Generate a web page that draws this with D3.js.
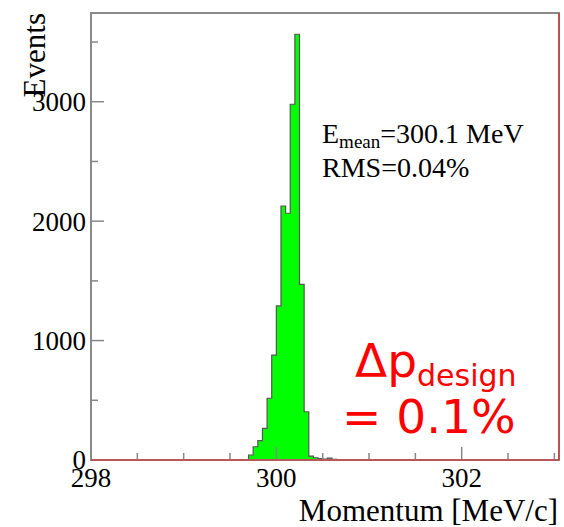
<!DOCTYPE html>
<html>
<head>
<meta charset="utf-8">
<script src="https://cdn.jsdelivr.net/npm/d3@7"></script>
<style>
  html, body { margin: 0; padding: 0; background: #ffffff; }
  svg { display: block; }
</style>
</head>
<body>
<svg id="chart" width="564" height="527"></svg>
<script>
// Momentum distribution, 0.05 MeV/c bins
const binWidth = 0.05;
const binLow = [299.70, 299.75, 299.80, 299.85, 299.90, 299.95, 300.00, 300.05, 300.10, 300.15,
                300.20, 300.25, 300.30, 300.35, 300.40, 300.45, 300.50, 300.55, 300.60, 300.65];
const counts = [42, 111, 162, 265, 517, 879, 1290, 2127, 2066, 2979,
                3565, 1470, 404, 33, 19, 12, 8, 15, 6, 3];

const xDomain = [298, 303.05];
const yDomain = [0, 3743];
const xMajorTicks = [298, 300, 302];
const xMinorTicks = [298.5, 299, 299.5, 300.5, 301, 301.5, 302.5, 303];
const yMajorTicks = [0, 1000, 2000, 3000];
const yMinorTicks = [500, 1500, 2500, 3500];

const statLines = { meanLabel: "E", meanSub: "mean", meanValue: "=300.1 MeV", rms: "RMS=0.04%" };
const designLabel = { main: "\u0394p", sub: "design", value: "= 0.1%" };
const xTitle = "Momentum [MeV/c]";
const yTitle = "Events";

const frame = { left: 91, right: 559, top: 13, bottom: 460 };
const serif = "'Liberation Serif', 'Times New Roman', serif";
const sans = "'DejaVu Sans', Verdana, sans-serif";

const svg = d3.select("#chart");
const x = d3.scaleLinear().domain(xDomain).range([frame.left, frame.right]);
const y = d3.scaleLinear().domain(yDomain).range([frame.bottom, frame.top]);

// histogram outline as a step path
const pts = [[binLow[0], 0]];
binLow.forEach((lo, i) => {
  pts.push([lo, counts[i]]);
  pts.push([lo + binWidth, counts[i]]);
});
pts.push([binLow[binLow.length - 1] + binWidth, 0]);

const line = d3.line().x(d => x(d[0])).y(d => y(d[1]));
svg.append("path")
  .attr("d", line(pts) + "Z")
  .attr("fill", "#00ff00")
  .attr("stroke", "#555555")
  .attr("stroke-width", 1.2);

// frame
svg.append("rect")
  .attr("x", frame.left).attr("y", frame.top)
  .attr("width", frame.right - frame.left).attr("height", frame.bottom - frame.top)
  .attr("fill", "none").attr("stroke", "#8a8a8a").attr("stroke-width", 2);

// ticks
const tickColor = "#888888";
const gx = svg.append("g");
gx.selectAll("line.maj").data(xMajorTicks).join("line")
  .attr("x1", d => x(d)).attr("x2", d => x(d))
  .attr("y1", frame.bottom).attr("y2", frame.bottom - 13)
  .attr("stroke", tickColor).attr("stroke-width", 1.5);
gx.selectAll("line.min").data(xMinorTicks).join("line")
  .attr("x1", d => x(d)).attr("x2", d => x(d))
  .attr("y1", frame.bottom).attr("y2", frame.bottom - 7)
  .attr("stroke", tickColor).attr("stroke-width", 1.5);

const gy = svg.append("g");
gy.selectAll("line.maj").data(yMajorTicks).join("line")
  .attr("x1", frame.left).attr("x2", frame.left + 13)
  .attr("y1", d => y(d)).attr("y2", d => y(d))
  .attr("stroke", tickColor).attr("stroke-width", 1.5);
gy.selectAll("line.min").data(yMinorTicks).join("line")
  .attr("x1", frame.left).attr("x2", frame.left + 7)
  .attr("y1", d => y(d)).attr("y2", d => y(d))
  .attr("stroke", tickColor).attr("stroke-width", 1.5);

// red edges on bottom and right
svg.append("line")
  .attr("x1", frame.left).attr("x2", frame.right)
  .attr("y1", frame.bottom).attr("y2", frame.bottom)
  .attr("stroke", "#e8262b").attr("stroke-width", 1.2);
svg.append("line")
  .attr("x1", frame.right).attr("x2", frame.right)
  .attr("y1", frame.top).attr("y2", frame.bottom)
  .attr("stroke", "#e8262b").attr("stroke-width", 1.2);

// tick labels
svg.append("g").selectAll("text").data(xMajorTicks).join("text")
  .attr("x", d => x(d)).attr("y", 487)
  .attr("text-anchor", "middle")
  .style("font-family", serif).style("font-size", "27px").attr("fill", "#000")
  .text(d => d);

svg.append("g").selectAll("text").data(yMajorTicks).join("text")
  .attr("x", 86).attr("y", d => y(d)).attr("dy", "0.35em")
  .attr("text-anchor", "end")
  .style("font-family", serif).style("font-size", "27px").attr("fill", "#000")
  .text(d => d);

// axis titles
svg.append("text")
  .attr("x", 558).attr("y", 521)
  .attr("text-anchor", "end")
  .style("font-family", serif).style("font-size", "31px").attr("fill", "#000")
  .text(xTitle);

svg.append("text")
  .attr("transform", "translate(45,13) rotate(-90)")
  .attr("text-anchor", "end")
  .style("font-family", serif).style("font-size", "31px").attr("fill", "#000")
  .text(yTitle);

// statistics text
const t1 = svg.append("text")
  .attr("x", 322).attr("y", 143)
  .style("font-family", serif).style("font-size", "28px").attr("fill", "#000");
t1.append("tspan").text(statLines.meanLabel);
t1.append("tspan").attr("dy", 5).style("font-size", "19px").text(statLines.meanSub);
t1.append("tspan").attr("dy", -5).text(statLines.meanValue);

svg.append("text")
  .attr("x", 322).attr("y", 177)
  .style("font-family", serif).style("font-size", "28px").attr("fill", "#000")
  .text(statLines.rms);

// design resolution annotation
const t2 = svg.append("text")
  .attr("x", 355).attr("y", 377)
  .style("font-family", sans).style("font-size", "47px").attr("fill", "#ff0000");
t2.append("tspan").text(designLabel.main);
t2.append("tspan").attr("dy", 9).style("font-size", "30px").text(designLabel.sub);

svg.append("text")
  .attr("x", 342).attr("y", 433)
  .style("font-family", sans).style("font-size", "47px").attr("fill", "#ff0000")
  .text(designLabel.value);
</script>
</body>
</html>
